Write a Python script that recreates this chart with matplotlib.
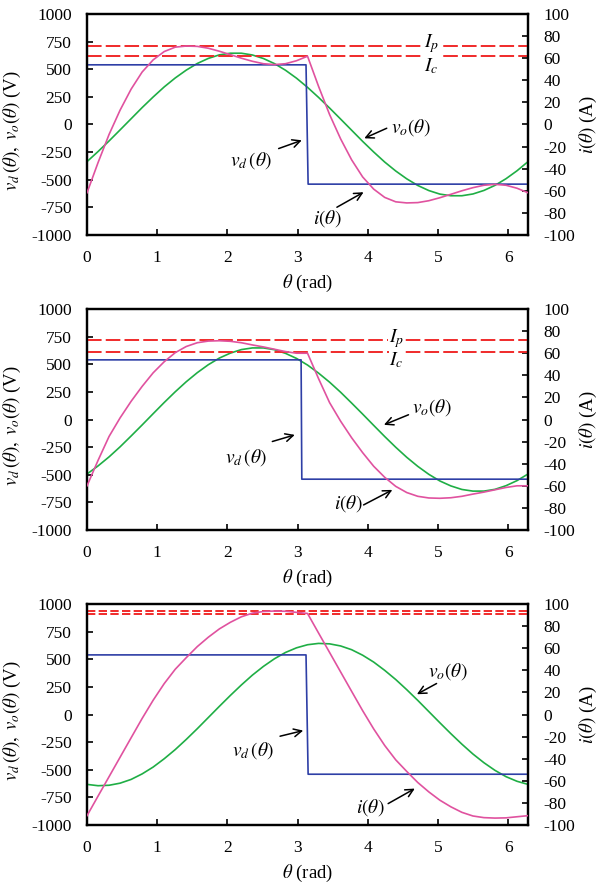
import numpy as np
import matplotlib
matplotlib.use("Agg")
import matplotlib.pyplot as plt

plt.rcParams["font.family"] = ["Liberation Serif", "DejaVu Serif"]
plt.rcParams["mathtext.fontset"] = "stix"
plt.rcParams["lines.scale_dashes"] = False
plt.rcParams["axes.unicode_minus"] = False

TWO_PI = 2 * np.pi
# sample grid for the sampled waveforms (step pi/20)
THETA = np.linspace(0, TWO_PI, 41)

# --- case 1 ---
VO_1 = [-336, -245, -149, -49, 52, 153, 249, 340, 421, 492, 552, 598, 630, 645,
        645, 629, 597, 551, 491, 419, 336, 245, 149, 49, -52, -153, -249, -340,
        -421, -492, -552, -598, -630, -645, -645, -629, -597, -551, -491, -419, -336]
I_1 = [-61.8, -34.5, -9, 13, 32, 47.5, 58.5, 66, 70, 71, 70.7, 69, 66.3, 63.2,
       60, 57.2, 55, 54.2, 55, 57.7, 61.8, 34.5, 9, -13, -32, -47.5, -58.5, -66,
       -70, -71, -70.7, -69, -66.3, -63.2, -60, -57.2, -55, -54.2, -55, -57.7, -61.8]
VD_T_1 = [0, 3.12, 3.15, TWO_PI]
VD_1 = [540, 540, -540, -540]

# --- case 2 ---
VO_2 = [-493, -420, -338, -247, -149, -49, 53, 154, 251, 342, 424, 496, 556, 601,
        633, 648, 648, 632, 599, 553, 493, 420, 338, 247, 149, 49, -53, -154,
        -251, -342, -424, -496, -556, -601, -633, -648, -648, -632, -599, -553, -493]
I_2 = [-60, -37, -15.3, 1.5, 16.5, 30, 42.3, 52.3, 60.5, 66.1, 69.5, 71, 71.3,
       70.8, 69.5, 67.5, 65.7, 63.6, 61.5, 60, 60, 37, 15.3, -1.5, -16.5, -30,
       -42.3, -52.3, -60.5, -66.1, -69.5, -71, -71.3, -70.8, -69.5, -67.5, -65.7,
       -63.6, -61.5, -60, -60]
VD_T_2 = [0, 3.05, 3.06, TWO_PI]
VD_2 = [540, 540, -540, -540]

# --- case 3 ---
VO_3 = [-632, -644, -640, -621, -587, -537, -475, -400, -317, -225, -128, -27,
        74, 173, 268, 357, 436, 505, 562, 604, 632, 644, 640, 621, 587, 537, 475,
        400, 317, 225, 128, 27, -74, -173, -268, -357, -436, -505, -562, -604, -632]
I_3 = [-91.5, -73.8, -56.2, -38.6, -21, -3.5, 13, 28, 41, 51.5, 61.5, 70, 77.5,
       83.5, 88.5, 91.8, 93.3, 93.7, 93.5, 92.5, 91.5, 73.8, 56.2, 38.6, 21, 3.5,
       -13, -28, -41, -51.5, -61.5, -70, -77.5, -83.5, -88.5, -91.8, -93.3,
       -93.7, -93.5, -92.5, -91.5]
VD_T_3 = [0, 3.12, 3.15, TWO_PI]
VD_3 = [540, 540, -540, -540]

I_P = [71.2, 72.0, 93.7]
I_C = [62.0, 60.7, 91.3]

BLUE = "#2e3fa6"
GREEN = "#1fae45"
PINK = "#e0529f"
RED = "#f02a2a"

panels = [
    dict(vo=VO_1, i=I_1, vdt=VD_T_1, vd=VD_1, ip=I_P[0], ic=I_C[0], dash=(10.5, 3.0),
         lab_ip=(4.91, 73.5), lab_ic=(4.91, 53),
         vo_txt=(4.62, -25), vo_tail=(4.27, -34), vo_head=(3.95, -125),
         vd_txt=(2.34, -330), vd_tail=(2.73, -218), vd_head=(3.06, -143),
         i_txt=(3.43, -852), i_tail=(3.56, -749), i_head=(3.94, -613)),
    dict(vo=VO_2, i=I_2, vdt=VD_T_2, vd=VD_2, ip=I_P[1], ic=I_C[1], dash=(10.5, 3.0),
         lab_ip=(4.41, 73.5), lab_ic=(4.41, 54),
         vo_txt=(4.91, 110), vo_tail=(4.58, 43), vo_head=(4.23, -48),
         vd_txt=(2.27, -342), vd_tail=(2.64, -199), vd_head=(2.96, -139),
         i_txt=(3.72, -764), i_tail=(3.94, -773), i_head=(4.35, -637)),
    dict(vo=VO_3, i=I_3, vdt=VD_T_3, vd=VD_3, ip=I_P[2], ic=I_C[2], dash=(6.0, 2.4),
         lab_ip=None, lab_ic=None,
         vo_txt=(5.14, 392), vo_tail=(4.98, 281), vo_head=(4.70, 184),
         vd_txt=(2.37, -325), vd_tail=(2.75, -196), vd_head=(3.08, -145),
         i_txt=(4.03, -837), i_tail=(4.29, -806), i_head=(4.67, -670)),
]

fig = plt.figure(figsize=(6.01, 8.86), dpi=100)
left, width, height = 0.1448, 0.7338, 0.2494
bottoms = [0.7348, 0.4018, 0.0688]

TICK_FS = 12.5
LABEL_FS = 13.5
NOTE_FS = 14

arrow = dict(arrowstyle="->", color="black", lw=1.1,
             mutation_scale=14, shrinkA=0, shrinkB=0)

for p, b in zip(panels, bottoms):
    ax = fig.add_axes([left, b, width, height])
    ax2 = ax.twinx()

    ax.plot(THETA, p["vo"], color=GREEN, lw=1.2, zorder=3)
    ax.plot(p["vdt"], p["vd"], color=BLUE, lw=1.2, zorder=3)
    ax2.plot(THETA, p["i"], color=PINK, lw=1.2, zorder=4)
    ax2.axhline(p["ip"], color=RED, lw=1.4, dashes=p["dash"], zorder=2)
    ax2.axhline(p["ic"], color=RED, lw=1.4, dashes=p["dash"], zorder=2)

    ax.set_xlim(0, TWO_PI)
    ax.set_ylim(-1000, 1000)
    ax2.set_ylim(-100, 100)
    ax.set_xticks(range(7))
    ax.set_yticks(np.arange(-1000, 1001, 250))
    ax2.set_yticks(np.arange(-100, 101, 20))

    ax.tick_params(axis="both", direction="in", length=4, width=1.2,
                   labelsize=TICK_FS, top=False, right=False)
    ax.tick_params(axis="y", pad=11)
    ax.tick_params(axis="x", pad=11)
    ax2.tick_params(axis="y", direction="in", length=4, width=1.2,
                    labelsize=TICK_FS, pad=11)
    for a in (ax, ax2):
        for s in a.spines.values():
            s.set_linewidth(1.6)

    ax.set_xlabel(r"$\theta$ (rad)", fontsize=LABEL_FS)
    ax.xaxis.set_label_coords(0.5, -0.17)
    ax.set_ylabel(r"$v_d\,(\theta),\ v_o(\theta)$ (V)", fontsize=LABEL_FS)
    ax.yaxis.set_label_coords(-0.145, 0.47)
    ax2.set_ylabel(r"$i(\theta)$ (A)", fontsize=LABEL_FS)
    ax2.yaxis.set_label_coords(1.112, 0.5)

    box = dict(facecolor="white", edgecolor="none", pad=0.5)
    if p["lab_ip"] is not None:
        ax2.text(*p["lab_ip"], r"$I_p$", fontsize=NOTE_FS, ha="center",
                 va="center", bbox=box, zorder=5)
        ax2.text(*p["lab_ic"], r"$I_c$", fontsize=NOTE_FS, ha="center",
                 va="center", bbox=box, zorder=5)

    ax.text(*p["vo_txt"], r"$v_o(\theta)$", fontsize=NOTE_FS, ha="center",
            va="center", zorder=6)
    ax.annotate("", xy=p["vo_head"], xytext=p["vo_tail"], arrowprops=arrow)
    ax.text(*p["vd_txt"], r"$v_d\,(\theta)$", fontsize=NOTE_FS, ha="center",
            va="center", zorder=6)
    ax.annotate("", xy=p["vd_head"], xytext=p["vd_tail"], arrowprops=arrow)
    ax.text(*p["i_txt"], r"$i(\theta)$", fontsize=NOTE_FS, ha="center",
            va="center", zorder=6)
    ax.annotate("", xy=p["i_head"], xytext=p["i_tail"], arrowprops=arrow)

    # keep the current trace above the voltage axes
    ax2.set_zorder(ax.get_zorder() + 1)
    ax2.patch.set_visible(False)

fig.savefig("out.png", dpi=100)
